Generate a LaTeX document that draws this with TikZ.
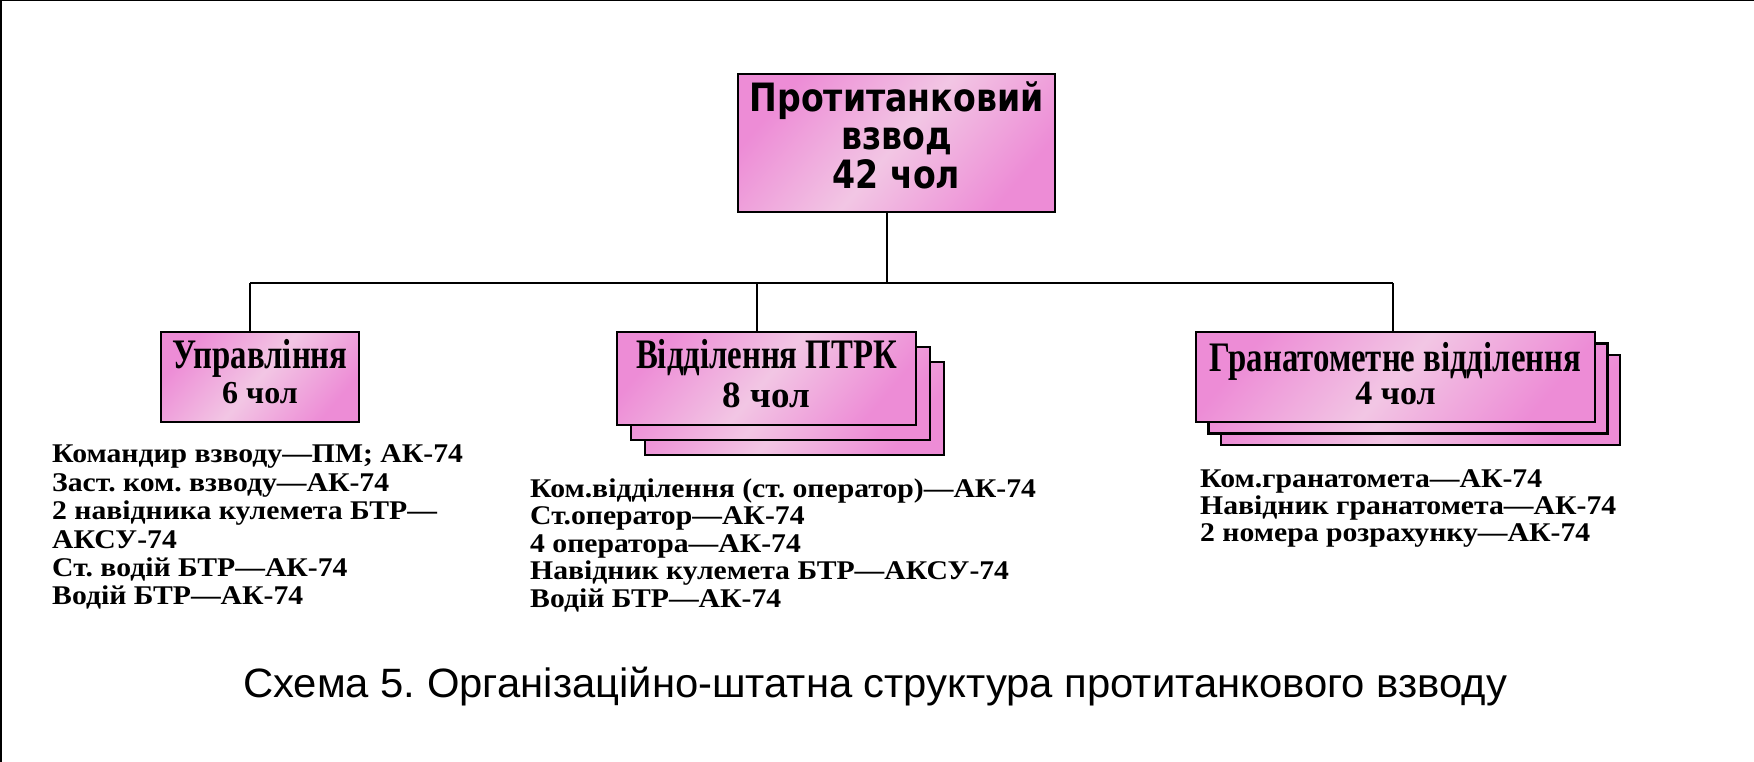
\documentclass[tikz,border=0pt]{standalone}
\usepackage{fontspec}
\setmainfont{Liberation Serif}
\newfontfamily\titlefont{DejaVu Sans}[FakeStretch=0.85]
\newfontfamily\boxfont{Liberation Serif}[FakeStretch=0.78]
\newfontfamily\boxfontB{Liberation Serif}
\newfontfamily\listfont{Liberation Serif}[FakeStretch=1.1]
\newfontfamily\capfont{Liberation Sans}[FakeStretch=1.02]
\newcommand\tightlines{\lineskiplimit=-100pt\relax}
\frenchspacing
\definecolor{pinkD}{RGB}{237,140,214}
\definecolor{pinkL}{RGB}{242,198,228}
\tikzset{
  unit/.style={draw=black, line width=2.4pt, inner sep=0pt, align=center,
    left color=pinkD, right color=pinkD, middle color=pinkL, shading angle=50},
  conn/.style={draw=black, line width=2pt},
  listtext/.style={anchor=north west, inner sep=0pt, align=left},
}
\begin{document}
\begin{tikzpicture}[x=1pt, y=-1pt]
\useasboundingbox (0,0) rectangle (1754,762);
\fill[white] (0,0) rectangle (1754,762);
% frame (left and top edges)
\fill[black] (0,0) rectangle (2,762);
\fill[black] (0,0) rectangle (1754,1.3);

% top unit
\node[unit, minimum width=317pt, minimum height=138pt,
  font=\titlefont\bfseries\fontsize{39}{38.5}\selectfont\tightlines] (top) at (896.5,143)
  {Протитанковий\\взвод\\42 чол\rule[-16pt]{0pt}{16pt}};

% Управління
\node[unit, minimum width=198pt, minimum height=90pt,
  font=\boxfont\bfseries\fontsize{42}{35}\selectfont\tightlines] (upr) at (260,377)
  {Управління\\{\boxfontB\bfseries\fontsize{32}{35}\selectfont 6 чол}\rule[-12pt]{0pt}{12pt}};

% Відділення ПТРК (stacked)
\node[unit, minimum width=299pt, minimum height=93pt] (ptrk3) at (794.5,408.5) {};
\node[unit, minimum width=299pt, minimum height=93pt] (ptrk2) at (780.5,393.5) {};
\node[unit, minimum width=299pt, minimum height=93pt,
  font=\boxfont\bfseries\fontsize{42}{39}\selectfont\tightlines] (ptrk) at (766.5,378.5)
  {Відділення ПТРК\\{\boxfontB\bfseries\fontsize{37}{39}\selectfont 8 чол}\rule[-10pt]{0pt}{10pt}};

% Гранатометне відділення (stacked)
\node[unit, minimum width=399pt, minimum height=90pt] (gran3) at (1420.5,400) {};
\node[unit, minimum width=399pt, minimum height=90pt] (gran2) at (1408,388.5) {};
\node[unit, minimum width=399pt, minimum height=90pt,
  font=\boxfont\bfseries\fontsize{42}{33}\selectfont\tightlines] (gran) at (1395.5,377)
  {Гранатометне відділення\\{\boxfontB\bfseries\fontsize{34}{33}\selectfont 4 чол}\rule[-7pt]{0pt}{7pt}};

% connectors
\coordinate (bus) at (887,283);
\coordinate (jl) at (250,283);
\coordinate (jm) at (757,283);
\coordinate (jr) at (1393,283);
\draw[conn] (top.south -| bus) -- (bus);
\draw[conn] (jl) -- (jr);
\draw[conn] (jl) -- (jl |- upr.north);
\draw[conn] (jm) -- (jm |- ptrk.north);
\draw[conn] (jr) -- (jr |- gran.north);

% lists
\node[listtext, font=\listfont\bfseries\fontsize{27}{28.4}\selectfont] (lupr) at (52,444.8)
  {Командир взводу—ПМ; АК-74\\Заст. ком. взводу—АК-74\\2 навідника кулемета БТР—\\АКСУ-74\\Ст. водій БТР—АК-74\\Водій БТР—АК-74};
\node[listtext, font=\listfont\bfseries\fontsize{27}{27.5}\selectfont] (lptrk) at (530,478.4)
  {Ком.відділення (ст. оператор)—АК-74\\Ст.оператор—АК-74\\4 оператора—АК-74\\Навідник кулемета БТР—АКСУ-74\\Водій БТР—АК-74};
\node[listtext, font=\listfont\bfseries\fontsize{27}{27}\selectfont] (lgran) at (1200,469.8)
  {Ком.гранатомета—АК-74\\Навідник гранатомета—АК-74\\2 номера розрахунку—АК-74};

% caption
\node[anchor=base west, inner sep=0pt, font=\capfont\fontsize{41}{44}\selectfont] (cap) at (243,697)
  {Схема 5. Організаційно-штатна структура протитанкового взводу};
\end{tikzpicture}
\end{document}
